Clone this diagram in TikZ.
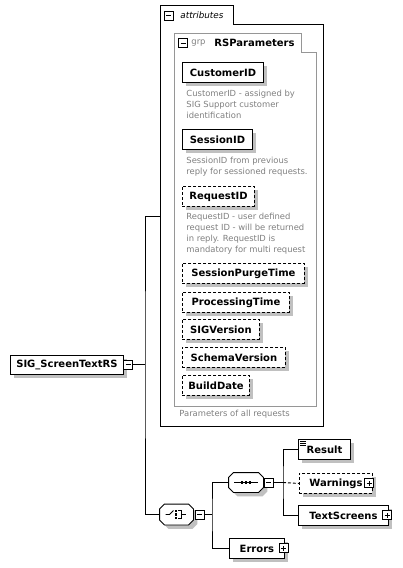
\documentclass[tikz,border=0pt]{standalone}
\usepackage{fontspec}
\setmainfont{DejaVu Sans}
\usetikzlibrary{shadows}

\definecolor{shadowgray}{RGB}{192,192,192}
\definecolor{descgray}{RGB}{128,128,128}
\definecolor{grpgray}{RGB}{150,150,150}
\newcommand{\elfont}{\fontsize{10}{12}\selectfont\bfseries}
\newcommand{\dscfont}{\fontsize{8.4}{11}\selectfont}
% octagon round a compositor node
\newcommand{\compoct}[1]{%
  \draw[fill=white, general shadow={fill=shadowgray, shadow xshift=4pt, shadow yshift=-4pt}]
    ([xshift=5pt]#1.north west) -- ([xshift=-5pt]#1.north east) -- ([yshift=-5pt]#1.north east)
    -- ([yshift=5pt]#1.south east) -- ([xshift=-5pt]#1.south east) -- ([xshift=5pt]#1.south west)
    -- ([yshift=5pt]#1.south west) -- ([yshift=-5pt]#1.north west) -- cycle;}

\tikzset{
  elem/.style={draw, fill=white, anchor=north west, minimum height=20pt, inner sep=0pt, font=\elfont,
    general shadow={fill=shadowgray, shadow xshift=4pt, shadow yshift=-4pt}},
  optelem/.style={elem, dash pattern=on 3pt off 2pt},
  desc/.style={anchor=north west, align=left, inner sep=0pt, text=descgray, font=\dscfont},
  minusbox/.style={draw, fill=white, minimum size=9pt, inner sep=0pt,
    path picture={\draw ([xshift=2pt]path picture bounding box.west) -- ([xshift=-2pt]path picture bounding box.east);}},
  plusbox/.style={draw, fill=white, minimum size=9pt, inner sep=0pt,
    path picture={\draw ([xshift=2pt]path picture bounding box.west) -- ([xshift=-2pt]path picture bounding box.east)
      ([yshift=2pt]path picture bounding box.south) -- ([yshift=-2pt]path picture bounding box.north);}},
  compbox/.style={inner sep=0pt, minimum height=20pt},
}

\begin{document}
\begin{tikzpicture}[x=1pt, y=-1pt, line width=0.9pt]
  \useasboundingbox[fill=white] (0,0) rectangle (402,568);

  % attributes container
  \draw (160,426) -- (160,5) -- (233,5) -- (233,24) -- (323,24) -- (323,426) -- cycle;
  \node[minusbox] (attrtog) at (168.5,15.5) {};
  \node[anchor=west, inner sep=0pt, font=\fontsize{8.8}{11}\selectfont\itshape] (attrtab) at (180,15.5) {attributes};
  \coordinate (attrin) at (160,216);

  % group RSParameters
  \draw[grpgray] (174,406) -- (174,33) -- (301,33) -- (301,52) -- (316,52) -- (316,406) -- cycle;
  \node[minusbox] (grptog) at (183,43) {};
  \node[anchor=west, inner sep=0pt, text=descgray, font=\dscfont] (grplbl) at (191,43) {grp};
  \node[anchor=west, inner sep=0pt, font=\elfont] (grptab) at (214,43) {RSParameters};

  \node[elem, minimum width=81pt] (custid) at (182,62) {CustomerID};
  \node[desc] (custdsc) at (186,90) {CustomerID - assigned by\\SIG Support customer\\identification};
  \node[elem, minimum width=70pt] (sessid) at (182,129) {SessionID};
  \node[desc] (sessdsc) at (186,157) {SessionID from previous\\reply for sessioned requests.};
  \node[optelem, minimum width=72pt] (reqid) at (182,186) {RequestID};
  \node[desc] (reqdsc) at (186,213) {RequestID - user defined\\request ID - will be returned\\in reply. RequestID is\\mandatory for multi request};
  \node[optelem, minimum width=122pt] (purge) at (182,263) {SessionPurgeTime};
  \node[optelem, minimum width=107pt] (proctime) at (182,292) {ProcessingTime};
  \node[optelem, minimum width=77pt] (sigver) at (182,319) {SIGVersion};
  \node[optelem, minimum width=103pt] (schemaver) at (182,347) {SchemaVersion};
  \node[optelem, minimum width=67pt] (builddate) at (182,375) {BuildDate};
  \node[desc] (grpdsc) at (179,410) {Parameters of all requests};

  % root element
  \node[elem, minimum width=113pt, minimum height=19pt] (sigroot) at (10,355) {SIG\_ScreenTextRS};
  \node[minusbox] (sigtog) at (128,364.5) {};
  \coordinate (bus1) at (145,364.5);

  % choice compositor
  \node[compbox, minimum width=33pt] (choice) at (176.5,514.5) {};
  \compoct{choice}
  \draw ([xshift=-11pt]choice.center) -- ++(4pt,0pt) -- ++(4pt,4pt);
  \foreach \dy in {-4.5,-1.2,2.1}
    \fill ([shift={(-1.8pt,\dy pt)}]choice.center) rectangle ++(2.6pt,2.4pt);
  \draw ([shift={(1.8pt,4pt)}]choice.center) -- ++(3pt,0pt) -- ++(0pt,-8pt) -- ++(-3pt,0pt)
    ([xshift=4.8pt]choice.center) -- ++(5pt,0pt);
  \node[minusbox] (choicetog) at (199.5,514.5) {};
  \coordinate (bus2) at (212,514.5);

  % sequence compositor
  \node[compbox, minimum width=34pt, minimum height=19pt] (seq) at (246,482.5) {};
  \compoct{seq}
  \draw ([xshift=-12pt]seq.center) -- ([xshift=12pt]seq.center);
  \foreach \dx in {-5.4,-1.4,2.6}
    \fill ([shift={(\dx pt,-1.4pt)}]seq.center) rectangle ++(2.8pt,2.8pt);
  \node[minusbox] (seqtog) at (268.5,482.5) {};
  \coordinate (bus3) at (283,482.5);

  \node[elem, minimum width=52pt, path picture={
      \foreach \dy in {2,4,6}
        \draw[line width=0.6pt] ([shift={(2pt,-\dy pt)}]path picture bounding box.north west) -- ++(6pt,0pt);}] (result) at (298,439) {Result};
  \node[optelem, minimum width=73pt] (warnings) at (299,473) {Warnings\hspace{8pt}};
  \node[plusbox] (warntog) at (369,483) {};
  \node[elem, minimum width=90pt] (textscreens) at (298,505) {TextScreens\hspace{8pt}};
  \node[plusbox] (tstog) at (387,515) {};
  \node[elem, minimum width=55pt] (errors) at (229,538) {Errors\hspace{8pt}};
  \node[plusbox] (errtog) at (283.5,548) {};

  % connectors
  \draw (sigtog.east) -- (bus1);
  \draw (attrin) -| (bus1) |- (choice.west);
  \draw (choicetog.east) -- (bus2);
  \draw (seq.west) -| (bus2) |- (errors.west);
  \draw (seqtog.east) -- (bus3);
  \draw (result.west) -| (bus3) |- (textscreens.west);
  \draw[dash pattern=on 3pt off 2pt] (bus3) -- (warnings.west);
\end{tikzpicture}
\end{document}
